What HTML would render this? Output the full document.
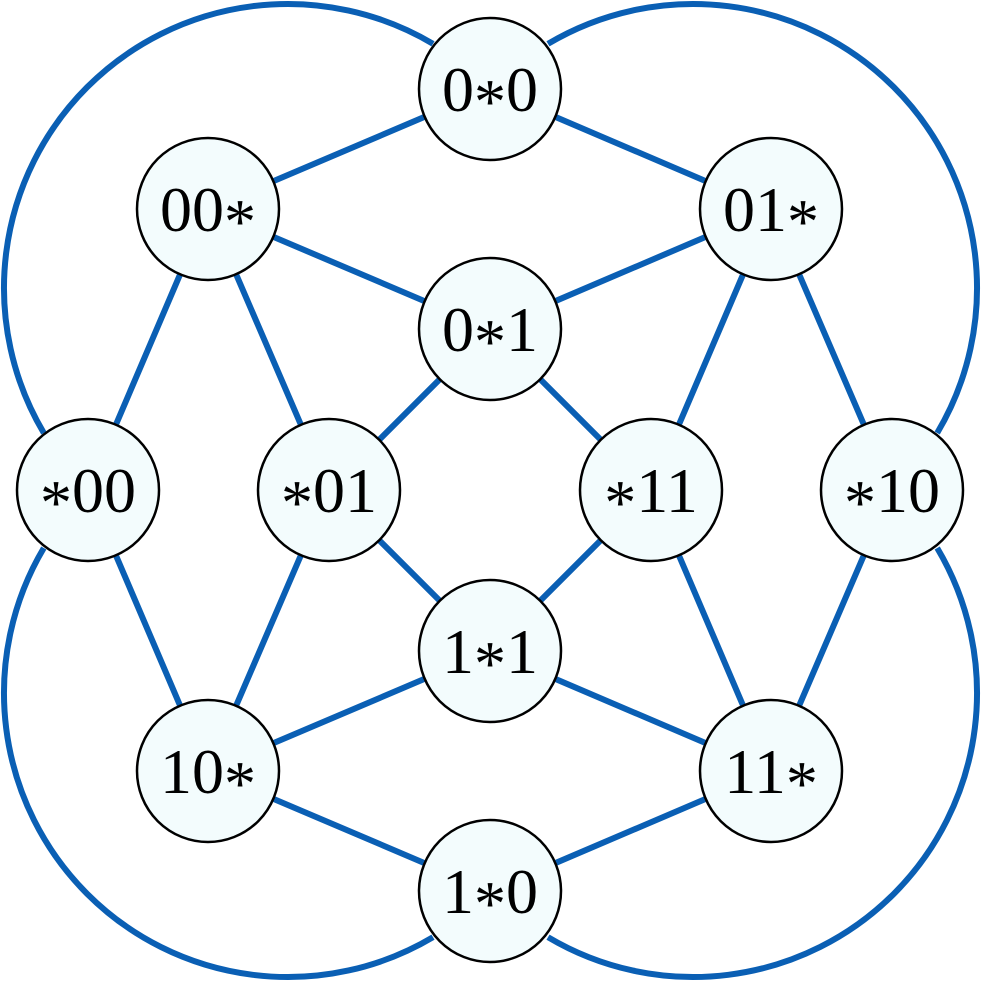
<!DOCTYPE html>
<html><head><meta charset="utf-8"><style>html,body{margin:0;padding:0;background:#fff}</style></head>
<body>
<svg width="981" height="981" viewBox="0 0 981 981" xmlns="http://www.w3.org/2000/svg">
<g fill="none" stroke="#0a5fb4" stroke-width="6">
<path d="M433,43.8 A284,284 0 0 0 43.8,433"/>
<path d="M548,43.8 A284,284 0 0 1 937.2,433"/>
<path d="M43.8,548 A284,284 0 0 0 433,937.2"/>
<path d="M937.2,548 A284,284 0 0 1 548,937.2"/>
<path d="M490,89L208,209 M490,89L771,209 M208,209L490,329 M771,209L490,329 M208,209L88,490 M208,209L329,490 M771,209L651,490 M771,209L892,490 M490,329L329,490 M490,329L651,490 M88,490L208,771 M329,490L208,771 M651,490L771,771 M892,490L771,771 M329,490L490,651 M651,490L490,651 M490,651L208,771 M490,651L771,771 M208,771L490,891 M771,771L490,891"/>
</g>
<g fill="#f3fcfd" stroke="#000" stroke-width="2.5">
<circle cx="490" cy="89" r="71"/><circle cx="208" cy="209" r="71"/><circle cx="771" cy="209" r="71"/><circle cx="490" cy="329" r="71"/>
<circle cx="88" cy="490" r="71"/><circle cx="329" cy="490" r="71"/><circle cx="651" cy="490" r="71"/><circle cx="892" cy="490" r="71"/>
<circle cx="490" cy="651" r="71"/><circle cx="208" cy="771" r="71"/><circle cx="771" cy="771" r="71"/><circle cx="490" cy="891" r="71"/>
</g>
<g style="font-family:'Liberation Serif',serif" font-size="64" text-anchor="middle" fill="#000">
<text x="490" y="111">0<tspan dy="12">*</tspan><tspan dy="-12">0</tspan></text>
<text x="208" y="231">00<tspan dy="12">*</tspan></text>
<text x="771" y="231">01<tspan dy="12">*</tspan></text>
<text x="490" y="351">0<tspan dy="12">*</tspan><tspan dy="-12">1</tspan></text>
<text x="88" y="512"><tspan dy="12">*</tspan><tspan dy="-12">00</tspan></text>
<text x="329" y="512"><tspan dy="12">*</tspan><tspan dy="-12">01</tspan></text>
<text x="651" y="512"><tspan dy="12">*</tspan><tspan dy="-12">11</tspan></text>
<text x="892" y="512"><tspan dy="12">*</tspan><tspan dy="-12">10</tspan></text>
<text x="490" y="673">1<tspan dy="12">*</tspan><tspan dy="-12">1</tspan></text>
<text x="208" y="793">10<tspan dy="12">*</tspan></text>
<text x="771" y="793">11<tspan dy="12">*</tspan></text>
<text x="490" y="913">1<tspan dy="12">*</tspan><tspan dy="-12">0</tspan></text>
</g>
</svg>
</body></html>
